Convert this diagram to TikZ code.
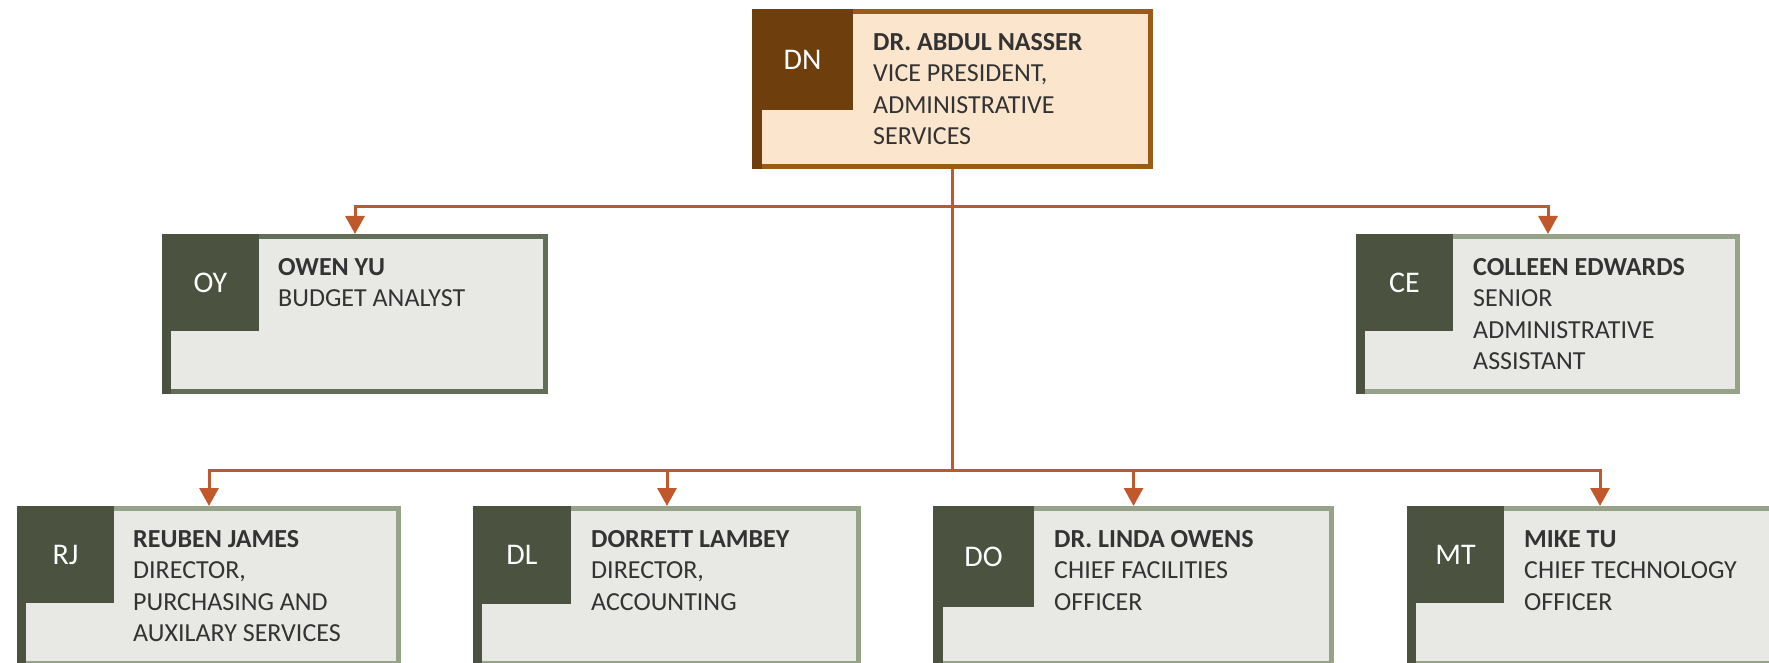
\documentclass[tikz,border=0pt]{standalone}
\usepackage{fontspec}
\setmainfont{Carlito}
\usepackage{xcolor}
\usetikzlibrary{arrows.meta,positioning}

\definecolor{linkorange}{HTML}{C0582B}
\definecolor{brownline}{HTML}{9A5B13}
\definecolor{browndark}{HTML}{6E3F0C}
\definecolor{peach}{HTML}{FBE5CD}
\definecolor{mossdark}{HTML}{4B5340}
\definecolor{sage}{HTML}{97A388}
\definecolor{sagedark}{HTML}{636E57}
\definecolor{cardfill}{HTML}{E8E9E5}
\definecolor{textgray}{HTML}{333333}

\begin{document}
\begin{tikzpicture}[
    x=1pt, y=1pt,
    card/.style={rectangle, draw=sage, line width=5pt, fill=cardfill, minimum height=155pt, inner sep=0pt},
    topcard/.style={card, draw=brownline, fill=peach},
    initials/.style={rectangle, anchor=north west, fill=mossdark, text=white, inner sep=0pt, outer sep=0pt, minimum size=97pt, font=\fontsize{30}{36}\selectfont},
    info/.style={anchor=north west, inner sep=0pt, align=left, text=textgray, font=\fontsize{26}{31.5}\selectfont},
    arrow/.style={-{Triangle[width=19pt,length=18pt]}, draw=linkorange, line width=3pt}
]
    \useasboundingbox (0,0) rectangle (1769,662);
    \clip (0,0) rectangle (1769,662);

    % Top
    \node[topcard, minimum width=396pt] (dn) at (952.5,573) {};
    \node[initials, fill=browndark, minimum size=101pt] (dni) at (dn.north west) {DN};
    \fill[browndark] (dni.south west) rectangle ([xshift=10pt]dn.south west);
    \node[info] (dnt) at ([xshift=20pt, yshift=-24pt]dni.north east) {\textbf{DR. ABDUL NASSER}\\VICE PRESIDENT,\\ADMINISTRATIVE\\SERVICES};

    % Middle row
    \node[card, draw=sagedark, minimum width=381pt] (oy) at (355,348) {};
    \node[initials] (oyi) at (oy.north west) {OY};
    \fill[mossdark] (oyi.south west) rectangle ([xshift=9pt]oy.south west);
    \node[info] (oyt) at ([xshift=19pt, yshift=-24pt]oyi.north east) {\textbf{OWEN YU}\\BUDGET ANALYST};

    \node[card, minimum width=379pt] (ce) at (1548,348) {};
    \node[initials] (cei) at (ce.north west) {CE};
    \fill[mossdark] (cei.south west) rectangle ([xshift=9pt]ce.south west);
    \node[info] (cet) at ([xshift=20pt, yshift=-24pt]cei.north east) {\textbf{COLLEEN EDWARDS}\\SENIOR\\ADMINISTRATIVE\\ASSISTANT};

    % Bottom row
    \node[card, minimum width=379pt] (rj) at (209,76) {};
    \node[initials] (rji) at (rj.north west) {RJ};
    \fill[mossdark] (rji.south west) rectangle ([xshift=9pt]rj.south west);
    \node[info] (rjt) at ([xshift=19pt, yshift=-24pt]rji.north east) {\textbf{REUBEN JAMES}\\DIRECTOR,\\PURCHASING AND\\AUXILARY SERVICES};

    \node[card, minimum width=383pt] (dl) at (667,76) {};
    \node[initials, minimum size=98pt] (dli) at (dl.north west) {DL};
    \fill[mossdark] (dli.south west) rectangle ([xshift=9pt]dl.south west);
    \node[info] (dlt) at ([xshift=20pt, yshift=-24pt]dli.north east) {\textbf{DORRETT LAMBEY}\\DIRECTOR,\\ACCOUNTING};

    \node[card, minimum width=396pt] (do) at (1133.5,76) {};
    \node[initials, minimum size=101pt] (doi) at (do.north west) {DO};
    \fill[mossdark] (doi.south west) rectangle ([xshift=10pt]do.south west);
    \node[info] (dot) at ([xshift=20pt, yshift=-24pt]doi.north east) {\textbf{DR. LINDA OWENS}\\CHIEF FACILITIES\\OFFICER};

    \node[card, minimum width=381pt] (mt) at (1600,76) {};
    \node[initials] (mti) at (mt.north west) {MT};
    \fill[mossdark] (mti.south west) rectangle ([xshift=9pt]mt.south west);
    \node[info] (mtt) at ([xshift=20pt, yshift=-24pt]mti.north east) {\textbf{MIKE TU}\\CHIEF TECHNOLOGY\\OFFICER};

    % Connectors
    \draw[arrow] (dn.south) -- ++(0,-38) -| (oy.north);
    \draw[arrow] (dn.south) -- ++(0,-38) -| (ce.north);
    \draw[arrow] (dn.south) -- ++(0,-301) -| (rj.north);
    \draw[arrow] (dn.south) -- ++(0,-301) -| (dl.north);
    \draw[arrow] (dn.south) -- ++(0,-301) -| (do.north);
    \draw[arrow] (dn.south) -- ++(0,-301) -| (mt.north);

\end{tikzpicture}
\end{document}
